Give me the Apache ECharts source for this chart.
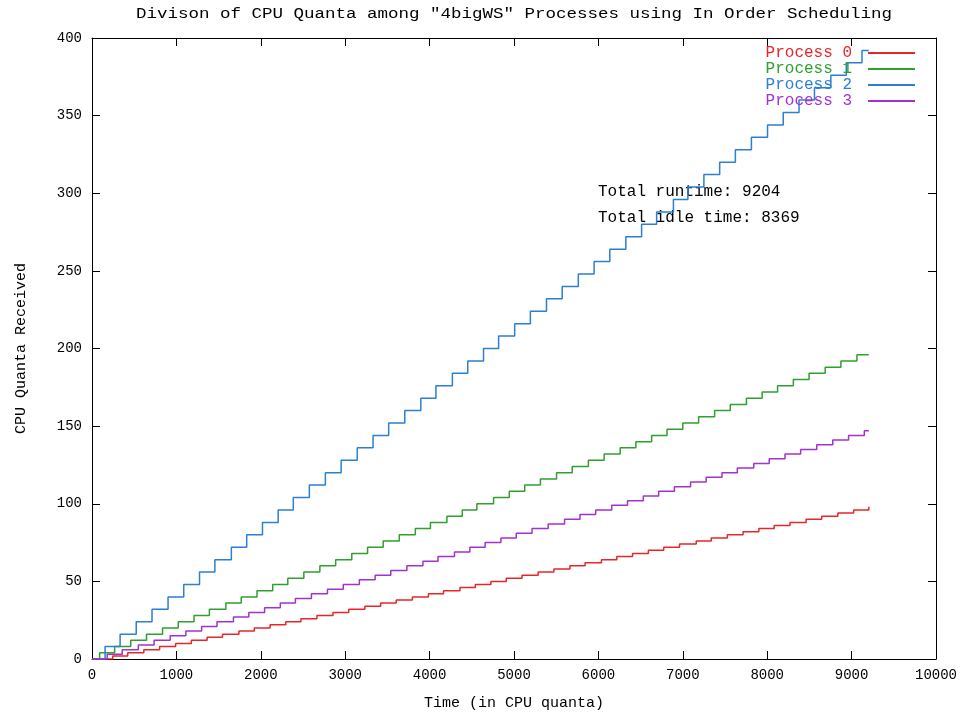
<!DOCTYPE html>
<html>
<head>
<meta charset="utf-8">
<title>CPU Quanta</title>
<script src="https://cdn.jsdelivr.net/npm/echarts@6/dist/echarts.min.js"></script>
<style>
  html, body { margin: 0; padding: 0; background: #fff; }
  #chart { width: 969px; height: 712px; }
</style>
</head>
<body>
<div id="chart"></div>
<script>
// Time (in CPU quanta) at which each process received a new burst of quanta
const process0Times = [245, 423, 614, 801, 991, 1177, 1364, 1546, 1741, 1923, 2110, 2296, 2475, 2665, 2855, 3042, 3233, 3420, 3605, 3796, 3986, 4165, 4360, 4542, 4726, 4908, 5095, 5286, 5473, 5663, 5842, 6036, 6218, 6405, 6592, 6774, 6961, 7159, 7337, 7528, 7714, 7901, 8083, 8270, 8461, 8646, 8837, 9024, 9204];
const process1Times = [90, 268, 459, 646, 836, 1022, 1209, 1391, 1586, 1768, 1955, 2141, 2320, 2510, 2700, 2887, 3078, 3265, 3450, 3641, 3831, 4010, 4205, 4387, 4560, 4758, 4944, 5127, 5313, 5504, 5690, 5881, 6068, 6258, 6444, 6631, 6813, 7000, 7187, 7377, 7563, 7754, 7940, 8123, 8310, 8496, 8687, 8873, 9063];
const process2Times = [155, 333, 524, 711, 901, 1087, 1274, 1456, 1651, 1833, 2020, 2206, 2385, 2575, 2765, 2952, 3143, 3330, 3515, 3706, 3896, 4075, 4270, 4452, 4639, 4818, 5008, 5194, 5385, 5571, 5762, 5949, 6135, 6325, 6512, 6690, 6889, 7060, 7250, 7437, 7623, 7813, 8004, 8190, 8377, 8560, 8754, 8937, 9123];
const process3Times = [180, 358, 549, 736, 926, 1112, 1299, 1481, 1676, 1858, 2045, 2231, 2410, 2600, 2790, 2977, 3168, 3355, 3540, 3731, 3921, 4100, 4295, 4477, 4658, 4845, 5027, 5214, 5405, 5599, 5782, 5968, 6158, 6345, 6532, 6714, 6901, 7092, 7277, 7464, 7646, 7841, 8024, 8211, 8396, 8587, 8777, 8964, 9151];

// Cumulative CPU quanta received after each burst
const process0Quanta = [2, 4, 6, 8, 10, 12, 14, 16, 18, 20, 22, 24, 26, 28, 30, 32, 34, 36, 38, 40, 42, 44, 46, 48, 50, 52, 54, 56, 58, 60, 62, 64, 66, 68, 70, 72, 74, 76, 78, 80, 82, 84, 86, 88, 90, 92, 94, 96, 98];
const process1Quanta = [4, 8, 12, 16, 20, 24, 28, 32, 36, 40, 44, 48, 52, 56, 60, 64, 68, 72, 76, 80, 84, 88, 92, 96, 100, 104, 108, 112, 116, 120, 124, 128, 132, 136, 140, 144, 148, 152, 156, 160, 164, 168, 172, 176, 180, 184, 188, 192, 196];
const process2Quanta = [8, 16, 24, 32, 40, 48, 56, 64, 72, 80, 88, 96, 104, 112, 120, 128, 136, 144, 152, 160, 168, 176, 184, 192, 200, 208, 216, 224, 232, 240, 248, 256, 264, 272, 280, 288, 296, 304, 312, 320, 328, 336, 344, 352, 360, 368, 376, 384, 392];
const process3Quanta = [3, 6, 9, 12, 15, 18, 21, 24, 27, 30, 33, 36, 39, 42, 45, 48, 51, 54, 57, 60, 63, 66, 69, 72, 75, 78, 81, 84, 87, 90, 93, 96, 99, 102, 105, 108, 111, 114, 117, 120, 123, 126, 129, 132, 135, 138, 141, 144, 147];

const processNames = ['Process 0', 'Process 1', 'Process 2', 'Process 3'];
const totalRuntime = 9204;
const totalIdleTime = 8369;

const xTicks = { min: 0, max: 10000, interval: 1000 };
const yTicks = { min: 0, max: 400, interval: 50 };

const colors = ['#e8262a', '#2fa02f', '#2b7fd4', '#a032d2'];
const monoFont = "'Liberation Mono', 'DejaVu Sans Mono', monospace";

// Build a step trace: start at the origin, one point per burst, hold the last value to the end of the run
function stepData(times, quanta) {
  const pts = [[0, 0]];
  times.forEach((t, i) => pts.push([t, quanta[i]]));
  const last = pts[pts.length - 1];
  if (last[0] < totalRuntime) pts.push([totalRuntime, last[1]]);
  return pts;
}

const seriesData = [
  stepData(process0Times, process0Quanta),
  stepData(process1Times, process1Quanta),
  stepData(process2Times, process2Quanta),
  stepData(process3Times, process3Quanta)
];

const chart = echarts.init(document.getElementById('chart'), null, { renderer: 'canvas' });

const tickStyle = { show: true, inside: true, length: 8, lineStyle: { color: '#000', width: 1 } };
const frameLine = { show: true, onZero: false, lineStyle: { color: '#000', width: 1 } };
const labelStyle = {
  color: '#000', fontFamily: monoFont, fontSize: 14,
  formatter: v => String(v)
};

chart.setOption({
  animation: false,
  backgroundColor: '#fff',
  textStyle: { fontFamily: monoFont },
  grid: { left: 92, right: 33, top: 38, bottom: 53, containLabel: false, outerBoundsMode: 'none' },
  legend: {
    orient: 'vertical',
    right: 49,
    top: 40,
    align: 'right',
    itemGap: 0,
    itemWidth: 47,
    itemHeight: 2,
    icon: 'rect',
    selectedMode: false,
    data: processNames.map((n, i) => ({
      name: n,
      textStyle: { color: colors[i] }
    })),
    textStyle: { fontFamily: monoFont, fontSize: 16, lineHeight: 16, padding: [0, 11, 0, 0] }
  },
  xAxis: [
    {
      type: 'value', min: xTicks.min, max: xTicks.max, interval: xTicks.interval,
      name: 'Time (in CPU quanta)', nameLocation: 'middle', nameGap: 37,
      nameTextStyle: { color: '#000', fontFamily: monoFont, fontSize: 15 },
      axisLine: frameLine, axisTick: tickStyle,
      axisLabel: Object.assign({ margin: 9 }, labelStyle),
      splitLine: { show: false }
    },
    {
      type: 'value', position: 'top', min: xTicks.min, max: xTicks.max, interval: xTicks.interval,
      axisLine: frameLine, axisTick: tickStyle, axisLabel: { show: false },
      splitLine: { show: false }
    }
  ],
  yAxis: [
    {
      type: 'value', min: yTicks.min, max: yTicks.max, interval: yTicks.interval,
      name: 'CPU Quanta Received', nameLocation: 'middle', nameGap: 63, nameRotate: 90,
      nameTextStyle: { color: '#000', fontFamily: monoFont, fontSize: 15 },
      axisLine: frameLine, axisTick: tickStyle,
      axisLabel: Object.assign({ margin: 10 }, labelStyle),
      splitLine: { show: false }
    },
    {
      type: 'value', position: 'right', min: yTicks.min, max: yTicks.max, interval: yTicks.interval,
      axisLine: frameLine, axisTick: tickStyle, axisLabel: { show: false },
      splitLine: { show: false }
    }
  ],
  series: seriesData.map((d, i) => ({
    name: processNames[i],
    type: 'line',
    step: 'end',
    data: d,
    xAxisIndex: 0,
    yAxisIndex: 0,
    showSymbol: false,
    symbol: 'none',
    color: colors[i],
    lineStyle: { color: colors[i], width: 1.5 },
    emphasis: { disabled: true }
  })),
  graphic: [
    {
      type: 'text', x: 514, y: 14, scaleX: 1.25,
      style: {
        text: 'Divison of CPU Quanta among "4bigWS" Processes using In Order Scheduling',
        font: "14px " + monoFont, fill: '#000', align: 'center', verticalAlign: 'middle'
      }
    },
    {
      type: 'text', x: 598, y: 192,
      style: {
        text: 'Total runtime: ' + totalRuntime,
        font: "16px " + monoFont, fill: '#000', align: 'left', verticalAlign: 'middle'
      }
    },
    {
      type: 'text', x: 598, y: 218,
      style: {
        text: 'Total idle time: ' + totalIdleTime,
        font: "16px " + monoFont, fill: '#000', align: 'left', verticalAlign: 'middle'
      }
    }
  ]
});
</script>
</body>
</html>
